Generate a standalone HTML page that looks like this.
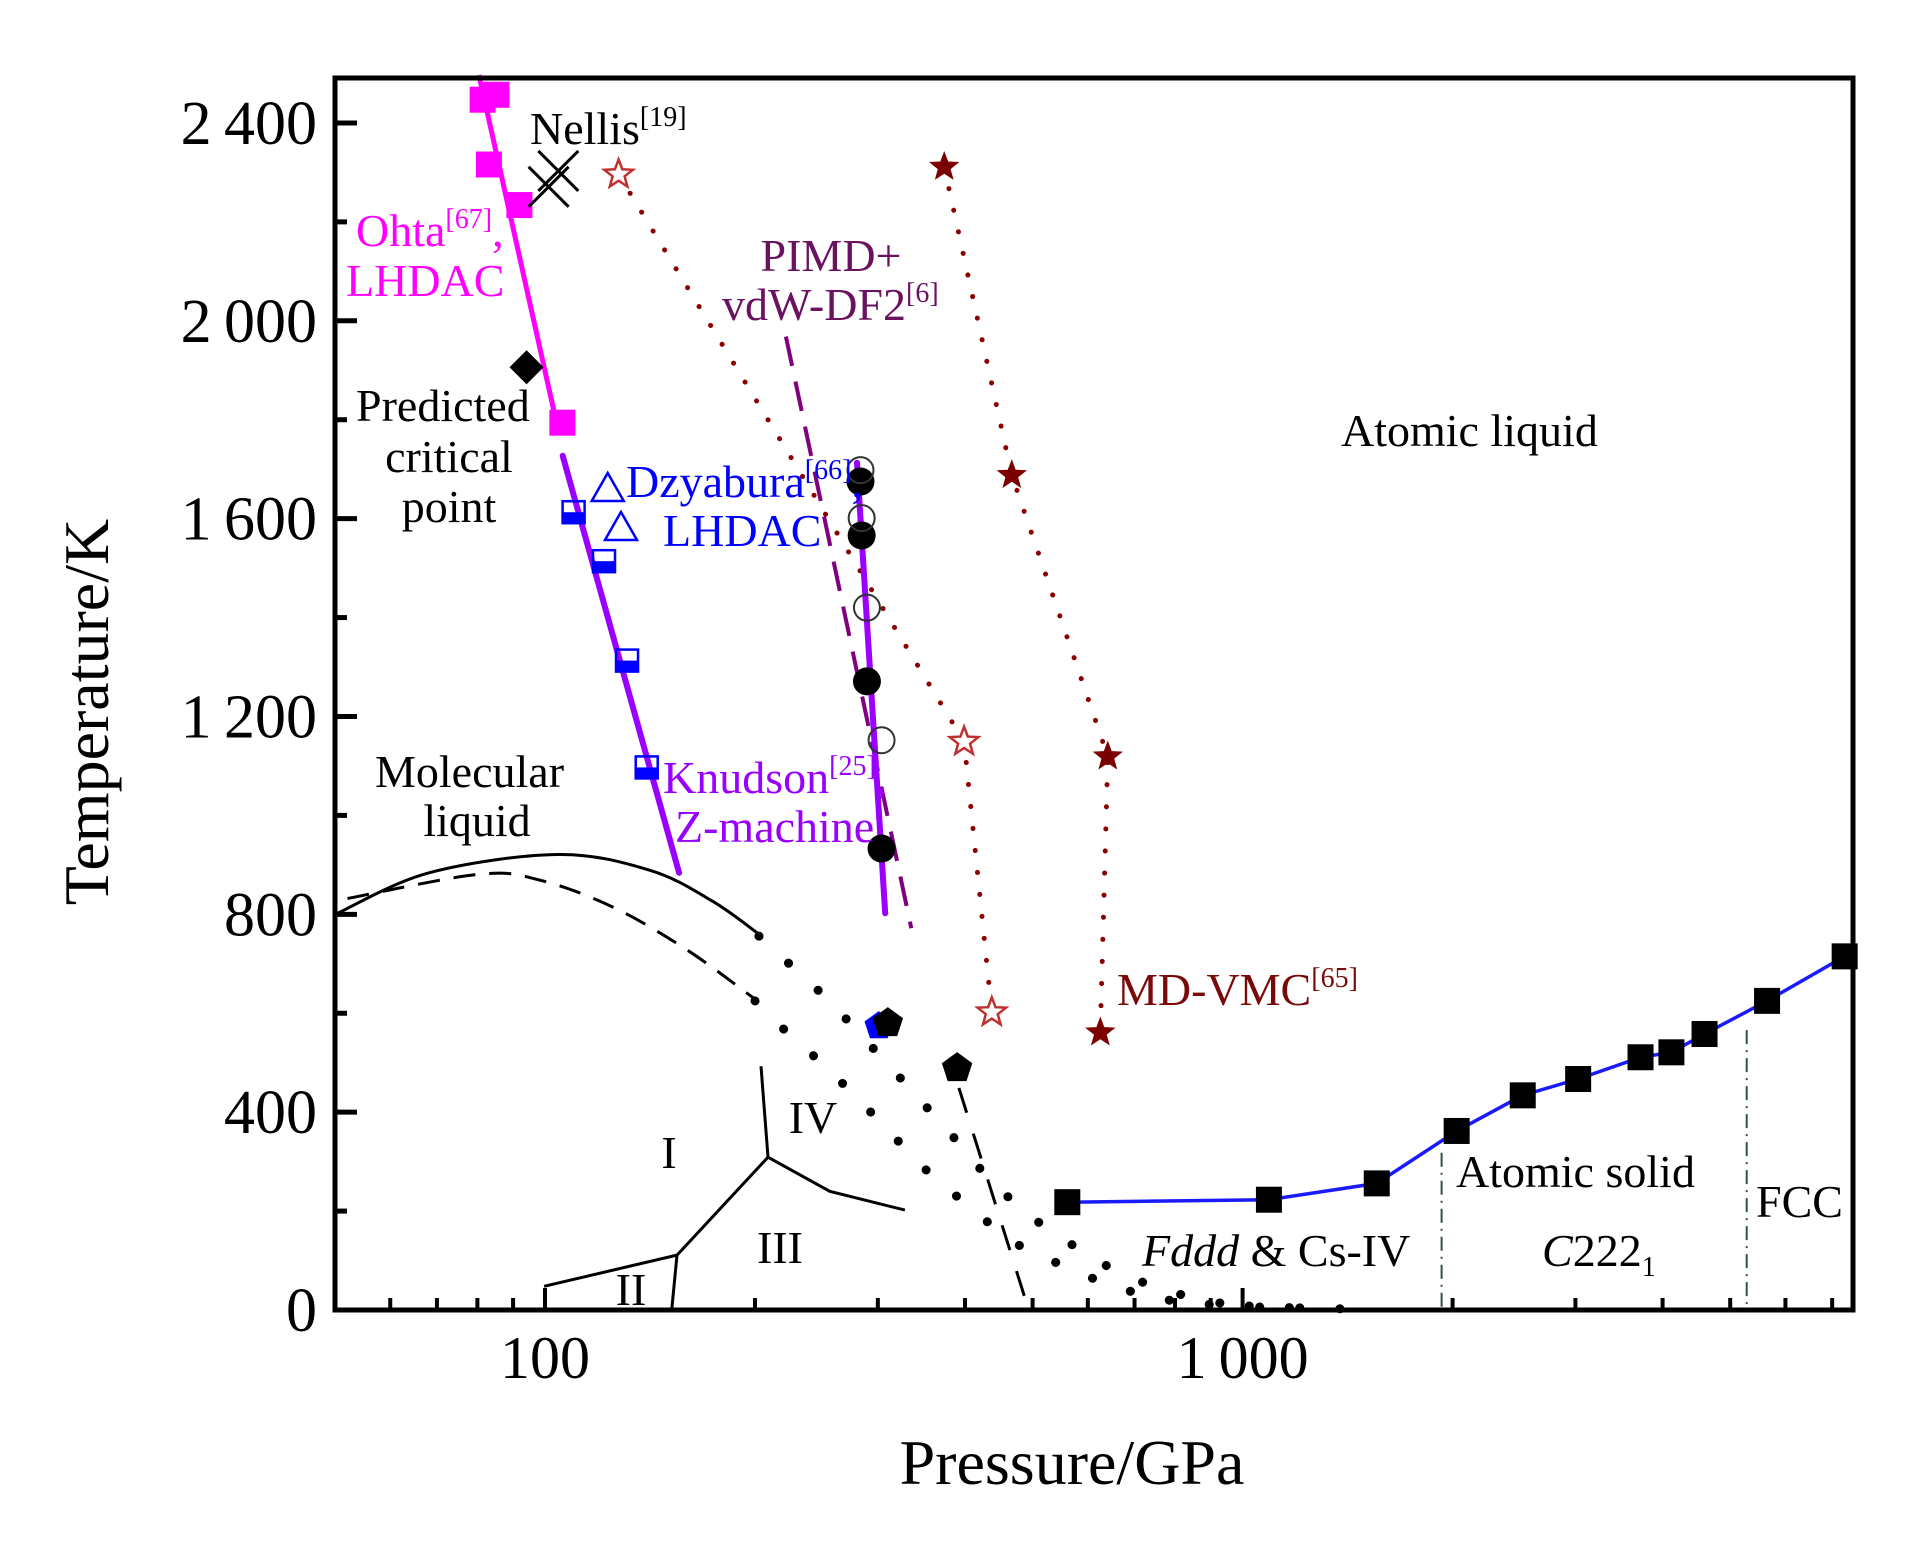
<!DOCTYPE html>
<html><head><meta charset="utf-8"><style>
html,body{margin:0;padding:0;background:#fff}
svg{display:block}
text{font-family:"Liberation Serif",serif}
</style></head><body>
<svg id="chart" width="1923" height="1559" viewBox="0 0 1923 1559" xmlns="http://www.w3.org/2000/svg">
<rect x="0" y="0" width="1923" height="1559" fill="#fff"/>
<g id="marks"></g>
<g id="axes"></g>
<g id="labels" font-size="46">
<text x="530" y="144">Nellis<tspan font-size="28" dy="-18">[19]</tspan></text>
<text x="356" y="246" fill="#ff00ff">Ohta<tspan font-size="28" dy="-18">[67]</tspan><tspan dy="18">,</tspan></text>
<text x="346" y="296" fill="#ff00ff">LHDAC</text>
<text x="356" y="421">Predicted</text>
<text x="449" y="472" text-anchor="middle">critical</text>
<text x="449" y="522" text-anchor="middle">point</text>
<text x="626" y="497" fill="#0000ff">Dzyabura<tspan font-size="28" dy="-18">[66]</tspan><tspan dy="18">,</tspan></text>
<text x="663" y="546" fill="#0000ff">LHDAC</text>
<text x="831" y="271" text-anchor="middle" fill="#6a1260">PIMD+</text>
<text x="722" y="320" fill="#6a1260">vdW-DF2<tspan font-size="28" dy="-18">[6]</tspan></text>
<text x="1341" y="446">Atomic liquid</text>
<text x="375" y="787">Molecular</text>
<text x="477" y="836" text-anchor="middle">liquid</text>
<text x="663" y="793" fill="#9900ff">Knudson<tspan font-size="28" dy="-18">[25]</tspan><tspan dy="18">,</tspan></text>
<text x="675" y="842" fill="#9900ff">Z-machine</text>
<text x="1117" y="1005" fill="#7a0a0a">MD-VMC<tspan font-size="28" dy="-18">[65]</tspan></text>
<text x="669" y="1168" text-anchor="middle">I</text>
<text x="813" y="1133" text-anchor="middle">IV</text>
<text x="780" y="1263" text-anchor="middle">III</text>
<text x="631" y="1305" text-anchor="middle">II</text>
<text x="1142" y="1266"><tspan font-style="italic">Fddd</tspan> &amp; Cs-IV</text>
<text x="1456" y="1187">Atomic solid</text>
<text x="1542" y="1266"><tspan font-style="italic">C</tspan>222<tspan font-size="28" dy="10">1</tspan></text>
<text x="1756" y="1217">FCC</text>
</g>
<text x="1072" y="1484" text-anchor="middle" font-size="64">Pressure/GPa</text>
<text transform="translate(108,712) rotate(-90)" text-anchor="middle" font-size="64">Temperature/K</text>
</svg>
<script>
// ---- data ----
const ohtaP=[81.4,85.2,83.1,91.9,105.9];
const ohtaT=[2447,2457,2316,2234,1794];
const ohtaFitP=[80.4,103.4];
const ohtaFitT=[2497,1807];
const nellisP=[101.2,104.5];
const nellisT=[2271,2303];
const critP=[94.1];
const critT=[1906];
const dzyHalfP=[109.9,121.5,131.1,139.9];
const dzyHalfT=[1613,1514,1313,1097];
const dzyTriP=[123.0,128.5];
const dzyTriT=[1658,1579];
const knud1P=[106.0,155.7];
const knud1T=[1727,884];
const knud2P=[280.1,307.4];
const knud2T=[1713,802];
const filledCircP=[283.3,284.4,289.4,303.7];
const filledCircT=[1675,1566,1271,933];
const openCircP=[283.3,284.4,289.4,303.7];
const openCircT=[1698,1601,1420,1152];
const pimdP=[221.5,335];
const pimdT=[1968,772];
const openStarP=[127.5,398.8,437];
const openStarT=[2296,1149,602];
const fillStarP=[373.5,466.8,640.8,625.3];
const fillStarT=[2311,1688,1119,561];
const pentP=[310,389.7];
const pentT=[580,489];
const solidP=[560.7,1090.8,1557,2027,2521,3027,3719,4118,4594,5647,7295];
const solidT=[218,223,256,362,434,467,511,521,558,625,715];
const meltP=[50.4,68.2,104.4,141.4,173.6,202.6];
const meltT=[802,884,921,889,827,760];
const meltDashP=[52.1,80.4,98.4,125.4,160.2,200.2];
const meltDashT=[832,881,869,814,727,628];
const dotAP=[202.6,255,317.5,354,395,437,502,571,660,769,904,1049,1439];
const dotAT=[756,627,481,407,332,257,184,131,77,40,16,6,2];
const dotBP=[200,222,254,285,318.6,357.6,408,465,542,631,742,869,1208];
const dotBT=[625,562,489,418,346,273,206,139,95,55,24,12,4];
const steepP=[392,492.6];
const steepT=[449,4];
const phIP=[204,208.8];
const phIT=[493,309];
const phIIIP=[208.8,256,328];
const phIIIT=[309,240,202];
const phIIP=[208.8,154.6,99.7];
const phIIT=[309,111,48];
const phIIvP=[154.6,152];
const phIIvT=[111,4];
const bound1P=[1929,1929];
const bound1T=[318,0];
const bound2P=[5280,5280];
const bound2T=[566,0];
const yTicks=[0,400,800,1200,1600,2000,2400];
const yTickLabels=["0","400","800","1\u2009200","1\u2009600","2\u2009000","2\u2009400"];
const yMinor=[200,600,1000,1400,1800,2200];
const xMajor=[100,1000];
const xMajorLabels=["100","1\u2009000"];
const xMinor=[60,70,80,90,200,300,400,500,600,700,800,900,2000,3000,4000,5000,6000,7000];

// ---- scales ----
const L=335,R=1853,T0=78,B=1310;
const X=p=>L+697.6*Math.log10(p/50);
const Y=t=>B-0.4946*t;
const NS="http://www.w3.org/2000/svg";
const marks=document.getElementById('marks');
const axes=document.getElementById('axes');
function mk(tag,attrs,parent){const e=document.createElementNS(NS,tag);for(const k in attrs)e.setAttribute(k,attrs[k]);(parent||marks).appendChild(e);return e;}
function pathD(P,Tt){return P.map((p,i)=>(i?'L':'M')+X(p).toFixed(1)+' '+Y(Tt[i]).toFixed(1)).join(' ');}
function line(P,Tt,style,name){const e=mk('path',Object.assign({d:pathD(P,Tt),fill:'none'},style));

return e;}
function smooth(P,Tt){const pts=P.map((p,i)=>[X(p),Y(Tt[i])]);let d='M'+pts[0][0]+' '+pts[0][1];
for(let i=0;i<pts.length-1;i++){const p0=pts[Math.max(i-1,0)],p1=pts[i],p2=pts[i+1],p3=pts[Math.min(i+2,pts.length-1)];
d+=' C'+(p1[0]+(p2[0]-p0[0])/6)+' '+(p1[1]+(p2[1]-p0[1])/6)+' '+(p2[0]-(p3[0]-p1[0])/6)+' '+(p2[1]-(p3[1]-p1[1])/6)+' '+p2[0]+' '+p2[1];}return d;}
function sline(P,Tt,style,name){const e=mk('path',Object.assign({d:smooth(P,Tt),fill:'none'},style));

return e;}
function starPts(cx,cy,r){let s=[];for(let i=0;i<10;i++){const a=-Math.PI/2+i*Math.PI/5;const rr=i%2?r*0.42:r;s.push((cx+rr*Math.cos(a)).toFixed(1)+','+(cy+rr*Math.sin(a)).toFixed(1));}return s.join(' ');}
function pentPts(cx,cy,r){let s=[];for(let i=0;i<5;i++){const a=-Math.PI/2+i*2*Math.PI/5;s.push((cx+r*Math.cos(a)).toFixed(1)+','+(cy+r*Math.sin(a)).toFixed(1));}return s.join(' ');}

// phase lines
const black={stroke:'#000','stroke-width':3};
sline(meltP,meltT,black,'melting-curve');
sline(meltDashP,meltDashT,{stroke:'#000','stroke-width':3,'stroke-dasharray':'22 14'},'melting-curve-dashed');
line(dotAP,dotAT,{stroke:'#000','stroke-width':9,'stroke-linecap':'round','stroke-dasharray':'0.1 40'},'dotted-boundary-a');
line(dotBP,dotBT,{stroke:'#000','stroke-width':9,'stroke-linecap':'round','stroke-dasharray':'0.1 40'},'dotted-boundary-b');
line(steepP,steepT,{stroke:'#000','stroke-width':3,'stroke-dasharray':'26 22'},'dashed-boundary');
line(phIP,phIT,black,'phase-i-iv-boundary');
line(phIIIP,phIIIT,black,'phase-iii-iv-boundary');
line(phIIP,phIIT,black,'phase-i-iii-boundary');
line(phIIvP,phIIvT,black,'phase-ii-iii-boundary');
line(bound1P,bound1T,{stroke:'#2f4f4f','stroke-width':2,'stroke-dasharray':'14 6 2 6'},'c2221-boundary');
line(bound2P,bound2T,{stroke:'#2f4f4f','stroke-width':2,'stroke-dasharray':'14 6 2 6'},'fcc-boundary');
// dotted MD-VMC lines
line(openStarP,openStarT,{stroke:'#8b0000','stroke-width':5,'stroke-linecap':'round','stroke-dasharray':'0.1 22'},'md-vmc-open-line');
line(fillStarP,fillStarT,{stroke:'#8b0000','stroke-width':5,'stroke-linecap':'round','stroke-dasharray':'0.1 22'},'md-vmc-filled-line');
line(pimdP,pimdT,{stroke:'#800080','stroke-width':4,'stroke-dasharray':'30 16'},'pimd-line');
// fits
line(ohtaFitP,ohtaFitT,{stroke:'#ff00ff','stroke-width':5},'ohta-fit-line');
line(knud1P,knud1T,{stroke:'#9900ff','stroke-width':6,'stroke-linecap':'round'},'knudson-line-1');
line(knud2P,knud2T,{stroke:'#9900ff','stroke-width':6,'stroke-linecap':'round'},'knudson-line-2');
line(solidP,solidT,{stroke:'#1a1aff','stroke-width':3.5},'solid-melting-line');

// markers
solidP.forEach((p,i)=>{const e=mk('rect',{x:X(p)-13,y:Y(solidT[i])-13,width:26,height:26,fill:'#000'});

});
ohtaP.forEach((p,i)=>{const e=mk('rect',{x:X(p)-13,y:Y(ohtaT[i])-13,width:26,height:26,fill:'#ff00ff'});

});
nellisP.forEach((p,i)=>{const cx=X(p),cy=Y(nellisT[i]);const e=mk('path',{d:`M${cx-20} ${cy-20}L${cx+20} ${cy+20}M${cx+20} ${cy-20}L${cx-20} ${cy+20}`,stroke:'#000','stroke-width':3});

});
critP.forEach((p,i)=>{const cx=X(p),cy=Y(critT[i]);const e=mk('polygon',{points:`${cx},${cy-17} ${cx+17},${cy} ${cx},${cy+17} ${cx-17},${cy}`,fill:'#000'});

});
dzyHalfP.forEach((p,i)=>{const cx=X(p),cy=Y(dzyHalfT[i]);
const b=mk('rect',{x:cx-11,y:cy,width:22,height:11,fill:'#0000ff'});


const e=mk('rect',{x:cx-11,y:cy-11,width:22,height:22,fill:'none',stroke:'#0000ff','stroke-width':2.5});

});
dzyTriP.forEach((p,i)=>{const cx=X(p),cy=Y(dzyTriT[i]);const e=mk('polygon',{points:`${cx},${cy-17} ${cx+16},${cy+11} ${cx-16},${cy+11}`,fill:'none',stroke:'#0000ff','stroke-width':2.5});

});
filledCircP.forEach((p,i)=>{const e=mk('circle',{cx:X(p),cy:Y(filledCircT[i]),r:14,fill:'#000'});

});
openCircP.forEach((p,i)=>{const e=mk('circle',{cx:X(p),cy:Y(openCircT[i]),r:13,fill:'none',stroke:'#333','stroke-width':2});

});
openStarP.forEach((p,i)=>{const e=mk('polygon',{points:starPts(X(p),Y(openStarT[i]),15),fill:'#fff',stroke:'#c0302e','stroke-width':2.5});

});
fillStarP.forEach((p,i)=>{const e=mk('polygon',{points:starPts(X(p),Y(fillStarT[i]),16),fill:'#7b0000'});

});
{const e=mk('polygon',{points:pentPts(X(pentP[0])-9,Y(pentT[0])+3,15),fill:'#0000ff'});

}
pentP.forEach((p,i)=>{const e=mk('polygon',{points:pentPts(X(p),Y(pentT[i]),16),fill:'#000'});

});

// axes
{const f=mk('rect',{x:L,y:T0,width:R-L,height:B-T0,fill:'none',stroke:'#000','stroke-width':5},axes);

}
yTicks.forEach((t,i)=>{const y=Y(t);const e=mk('line',{x1:L,x2:L+22,y1:y,y2:y,stroke:'#000','stroke-width':5},axes);


const tx=mk('text',{x:317,y:y+21,'text-anchor':'end','font-size':62},axes);tx.textContent=yTickLabels[i];

});
yMinor.forEach(t=>{const y=Y(t);const e=mk('line',{x1:L,x2:L+12,y1:y,y2:y,stroke:'#000','stroke-width':5},axes);

});
xMajor.forEach((p,i)=>{const x=X(p);const e=mk('line',{x1:x,x2:x,y1:B,y2:B-22,stroke:'#000','stroke-width':4},axes);


const tx=mk('text',{x:x,y:1378,'text-anchor':'middle','font-size':60},axes);tx.textContent=xMajorLabels[i];

});
xMinor.forEach(p=>{const x=X(p);const e=mk('line',{x1:x,x2:x,y1:B,y2:B-12,stroke:'#000','stroke-width':4},axes);

});
</script>
</body></html>
